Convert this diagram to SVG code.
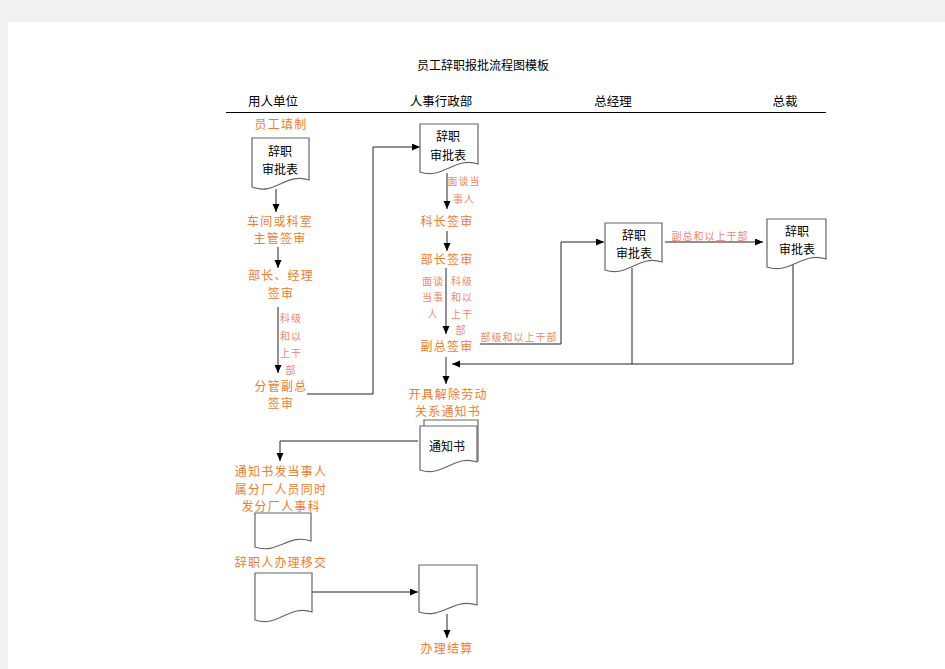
<svg xmlns="http://www.w3.org/2000/svg" width="945" height="669" viewBox="0 0 945 669">
<style>
text{font-family:"Noto Sans CJK SC","Noto Sans",sans-serif;text-anchor:middle}
.t{font-size:12px;fill:#000}
.h{font-size:12.5px;fill:#000}
.o{font-size:12px;fill:#ED7D31;letter-spacing:1.2px}
.p{font-size:10px;fill:#F4846C;letter-spacing:1px}
.k{font-size:12px;fill:#000}
.doc{fill:#fff;stroke:#666;stroke-width:1.2}
.c{fill:none;stroke:#222;stroke-width:1}
.a{marker-end:url(#arr)}
</style>
<defs>
<marker id="arr" markerUnits="userSpaceOnUse" markerWidth="9" markerHeight="8" refX="8" refY="3.5" orient="auto">
<path d="M0,0 L8,3.5 L0,7 Z" fill="#000"/>
</marker>
</defs>
<rect x="0" y="0" width="945" height="669" fill="#f2f2f2"/>
<rect x="8" y="22" width="937" height="647" fill="#fff"/>

<text class="t" x="483" y="70">员工辞职报批流程图模板</text>
<g id="headers">
<text class="h" x="273" y="106">用人单位</text>
<text class="h" x="441" y="106">人事行政部</text>
<text class="h" x="613" y="106">总经理</text>
<text class="h" x="785" y="106">总裁</text>
<line x1="226" y1="112.5" x2="826" y2="112.5" stroke="#000" stroke-width="1"/>
</g>

<g id="connectors">
<line class="c a" x1="276" y1="189" x2="276" y2="212" stroke="#555" stroke-width="1.5"/>
<line class="c a" x1="278" y1="247" x2="278" y2="268"/>
<line class="c a" x1="278" y1="307" x2="278" y2="373"/>
<polyline class="c a" points="307,394 373,394 373,147 420,147"/>
<line class="c a" x1="447" y1="173" x2="447" y2="209"/>
<line class="c a" x1="447" y1="231" x2="447" y2="251"/>
<line class="c a" x1="446" y1="268" x2="446" y2="334"/>
<polyline class="c a" points="480,344 561,344 561,242 604,242"/>
<line class="c a" x1="665" y1="242" x2="763" y2="242"/>
<line class="c" x1="632" y1="268" x2="632" y2="364"/>
<polyline class="c a" points="793,262 793,364 452,364"/>
<line class="c a" x1="446" y1="357" x2="446" y2="384"/>
<polyline class="c a" points="418,441 280,441 280,461"/>
<line class="c a" x1="310" y1="592" x2="418" y2="592"/>
<line class="c a" x1="447" y1="614" x2="447" y2="638"/>
</g>

<g id="n-fill">
<text class="o" x="281" y="129">员工填制</text>
</g>
<g id="d1">
<path class="doc" d="M252 138 H309 V180 C286.2 172 274.8 196 252 187 Z"/>
<text class="k" x="280" y="156">辞职</text>
<text class="k" x="280" y="174">审批表</text>
</g>
<g id="n-chejian">
<text class="o" x="280" y="226">车间或科室</text>
<text class="o" x="280" y="243">主管签审</text>
</g>
<g id="n-buzhang">
<text class="o" x="281" y="280">部长、经理</text>
<text class="o" x="281" y="298">签审</text>
</g>
<g id="lbl-left">
<text class="p" x="291" y="322">科级</text>
<text class="p" x="291" y="340">和以</text>
<text class="p" x="291" y="357">上干</text>
<text class="p" x="291" y="374">部</text>
</g>
<g id="n-fenguan">
<text class="o" x="281" y="391">分管副总</text>
<text class="o" x="281" y="408">签审</text>
</g>

<g id="d2">
<path class="doc" d="M420 124 H478 V164 C454.8 156 443.2 180 420 172 Z"/>
<text class="k" x="448" y="141">辞职</text>
<text class="k" x="448" y="160">审批表</text>
</g>
<g id="lbl-mid1">
<text class="p" x="464" y="185">面谈当</text>
<text class="p" x="464" y="203">事人</text>
</g>
<g id="n-kezhang">
<text class="o" x="447" y="226">科长签审</text>
</g>
<g id="n-buzhang2">
<text class="o" x="447" y="264">部长签审</text>
</g>
<g id="lbl-mid2">
<text class="p" x="433" y="285">面谈</text>
<text class="p" x="433" y="301">当事</text>
<text class="p" x="433" y="318">人</text>
<text class="p" x="462" y="285">科级</text>
<text class="p" x="462" y="301">和以</text>
<text class="p" x="462" y="318">上干</text>
<text class="p" x="461" y="334">部</text>
<text class="p" x="519" y="341">部级和以上干部</text>
</g>
<g id="n-fuzong">
<text class="o" x="447" y="351">副总签审</text>
</g>

<g id="d3">
<path class="doc" d="M605 223 H662 V262 C639.2 254 627.8 278 605 270 Z"/>
<text class="k" x="634" y="240">辞职</text>
<text class="k" x="634" y="258">审批表</text>
</g>
<text class="p" x="710" y="240">副总和以上干部</text>
<g id="d4">
<path class="doc" d="M767 219 H826 V259 C802.4 251 790.6 275 767 267 Z"/>
<text class="k" x="797" y="236">辞职</text>
<text class="k" x="797" y="254">审批表</text>
</g>

<g id="n-kaiju">
<text class="o" x="448" y="399">开具解除劳动</text>
<text class="o" x="448" y="416">关系通知书</text>
</g>
<g id="d5">
<polyline points="424,426 424,420 478,420 478,461 477,461" fill="#fff" stroke="#666" stroke-width="1.2"/>
<path class="doc" d="M420 426 H477 V462 C454.2 454 442.8 478 420 470 Z"/>
<text class="k" x="447" y="451">通知书</text>
</g>
<g id="n-tongzhi">
<text class="o" x="281" y="476">通知书发当事人</text>
<text class="o" x="281" y="494">属分厂人员同时</text>
<text class="o" x="281" y="511">发分厂人事科</text>
</g>
<g id="d6">
<path class="doc" d="M255 513 H311 V541 C288.6 533 277.4 555 255 547 Z"/>
</g>
<g id="n-yijiao">
<text class="o" x="281" y="567">辞职人办理移交</text>
</g>
<g id="d7">
<path class="doc" d="M255 573 H312 V612 C289.2 604 277.8 628 255 620 Z"/>
</g>
<g id="d8">
<path class="doc" d="M419 565 H477 V605 C453.8 597 442.2 620 419 612 Z"/>
</g>
<g id="n-jiesuan">
<text class="o" x="447" y="653">办理结算</text>
</g>
</svg>
